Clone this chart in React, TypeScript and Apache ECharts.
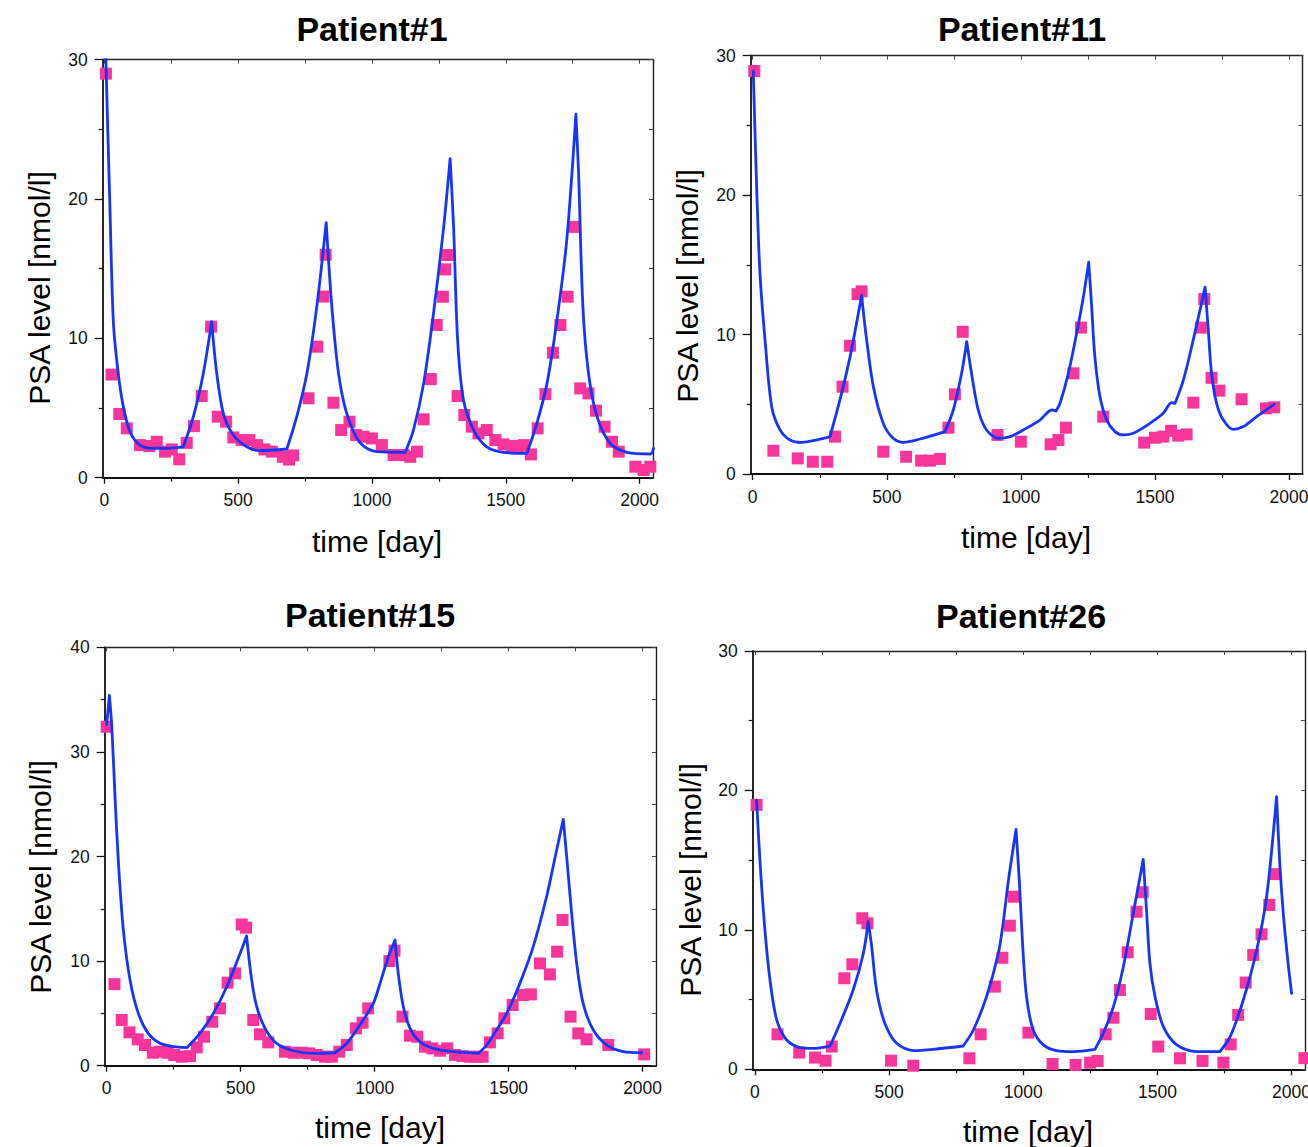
import React, { useEffect, useRef } from "react";
import * as echarts from "echarts";

const FONT = "'Liberation Sans', Arial, Helvetica, sans-serif";

// ---------- tick values ----------
const xMajorTicks = [0, 500, 1000, 1500, 2000];
const xMinorTicks = [250, 750, 1250, 1750];
const xTopTicks = [0, 250, 500, 750, 1000, 1250, 1500, 1750, 2000];

// ---------- titles ----------
const panelTitles = ["Patient#1", "Patient#11", "Patient#15", "Patient#26"];
const xAxisName = "time [day]";
const yAxisName = "PSA level [nmol/l]";
const yMaxValues = [30, 30, 40, 30];

// ---------- Patient #1 ----------
const p1Measured = [
  [6, 29.0], [27, 7.4], [56, 4.57], [84, 3.54], [133, 2.34], [168, 2.27], [196, 2.58], [227, 1.87],
  [252, 2.03], [280, 1.32], [308, 2.5], [335, 3.7], [364, 5.86], [399, 10.84], [424, 4.38], [455, 4.02],
  [482, 2.89], [513, 2.7], [542, 2.7], [570, 2.34], [598, 2.03], [626, 1.87], [667, 1.5], [690, 1.3],
  [705, 1.6], [763, 5.7], [796, 9.4], [819, 13.0], [827, 16.0], [856, 5.38], [885, 3.42], [916, 4.02],
  [941, 3.06], [968, 2.94], [1000, 2.82], [1037, 2.34], [1081, 1.63], [1118, 1.63], [1143, 1.5],
  [1168, 1.87], [1193, 4.19], [1220, 7.08], [1242, 10.96], [1265, 12.99], [1274, 14.95], [1282, 15.98],
  [1320, 5.86], [1345, 4.5], [1373, 3.66], [1398, 3.18], [1429, 3.42], [1461, 2.7], [1492, 2.39],
  [1523, 2.27], [1548, 2.27], [1567, 2.34], [1594, 1.67], [1619, 3.54], [1648, 6.0], [1676, 8.97],
  [1704, 10.96], [1731, 12.99], [1751, 18.0], [1778, 6.41], [1809, 6.05], [1837, 4.81], [1869, 3.66],
  [1897, 2.58], [1922, 1.87], [1984, 0.79], [2015, 0.55], [2040, 0.79],
];
// model curve, one array per treatment phase (decay / rise)
const p1Model = [
  [[3, 32], [21, 19.4], [34, 11.1], [52, 7.5], [71, 5.1], [96, 3.3], [133, 2.34], [183, 2.1], [221, 2.1], [295, 2.22]],
  [[295, 2.22], [333, 4.4], [370, 7.5], [401, 11.2]],
  [[401, 11.2], [420, 7.5], [445, 4.6], [482, 3.06], [532, 2.22], [582, 1.94], [682, 2.06]],
  [[682, 2.06], [719, 4.38], [757, 7.5], [794, 12.3], [829, 18.3]],
  [[829, 18.3], [850, 12.3], [875, 7.5], [906, 4.6], [956, 2.5], [1018, 1.87], [1124, 1.82]],
  [[1124, 1.82], [1155, 3.42], [1193, 6.77], [1230, 11.8], [1268, 18.0], [1292, 22.9]],
  [[1292, 22.9], [1305, 18.0], [1320, 9.9], [1342, 5.57], [1380, 3.42], [1429, 2.22], [1492, 1.82], [1579, 1.75]],
  [[1579, 1.75], [1616, 3.9], [1654, 6.77], [1691, 11.3], [1728, 17.1], [1762, 26.1]],
  [[1762, 26.1], [1772, 21.8], [1788, 12.3], [1809, 7.5], [1841, 4.38], [1890, 2.46], [1953, 1.82], [2040, 1.7], [2052, 2.1]],
];

// ---------- Patient #11 ----------
const p11Measured = [
  [6, 28.9], [77, 1.67], [168, 1.12], [224, 0.88], [278, 0.88], [307, 2.68], [335, 6.26], [363, 9.2],
  [391, 12.9], [406, 13.1], [487, 1.6], [572, 1.24], [628, 0.96], [661, 0.96], [698, 1.08], [730, 3.32],
  [754, 5.71], [783, 10.2], [913, 2.8], [1000, 2.32], [1111, 2.13], [1140, 2.44], [1168, 3.32],
  [1196, 7.22], [1224, 10.5], [1307, 4.11], [1460, 2.25], [1500, 2.6], [1531, 2.68], [1560, 3.1],
  [1587, 2.75], [1618, 2.84], [1643, 5.12], [1671, 10.5], [1684, 12.55], [1711, 6.9], [1740, 5.98],
  [1823, 5.36], [1914, 4.71], [1945, 4.78],
];
const p11Model = [
  [[2, 28.9], [15, 20.4], [27, 14.4], [46, 9.6], [71, 4.8], [102, 3.16], [139, 2.44], [183, 2.27], [239, 2.44], [288, 2.68]],
  [[288, 2.68], [325, 5.3], [363, 8.4], [406, 12.8]],
  [[406, 12.8], [425, 9.6], [450, 6.26], [487, 3.63], [524, 2.56], [562, 2.27], [624, 2.51], [717, 3.04]],
  [[717, 3.04], [748, 4.59], [779, 7.22], [798, 9.5]],
  [[798, 9.5], [816, 7.22], [841, 4.59], [872, 3.16], [916, 2.56], [960, 2.68], [1009, 3.16], [1071, 3.87], [1115, 4.59], [1131, 4.52]],
  [[1131, 4.52], [1146, 5.07], [1177, 7.22], [1208, 10.1], [1233, 12.7], [1253, 15.2]],
  [[1253, 15.2], [1264, 12.0], [1276, 8.4], [1295, 5.55], [1320, 3.87], [1351, 3.04], [1382, 2.8], [1419, 2.92], [1481, 3.63], [1531, 4.35], [1562, 5.12], [1575, 5.07]],
  [[1575, 5.07], [1606, 6.74], [1637, 9.13], [1668, 11.76], [1687, 13.4]],
  [[1687, 13.4], [1699, 10.3], [1711, 7.22], [1730, 5.07], [1755, 3.87], [1792, 3.2], [1830, 3.4], [1879, 4.11], [1945, 5.0]],
];

// ---------- Patient #15 ----------
const p15Measured = [
  [0, 32.4], [29, 7.8], [56, 4.37], [85, 3.19], [116, 2.52], [143, 1.98], [172, 1.24], [199, 1.34],
  [228, 1.24], [252, 1.02], [280, 0.86], [311, 0.92], [336, 1.75], [363, 2.77], [394, 4.2], [423, 5.48],
  [451, 7.94], [479, 8.83], [504, 13.5], [520, 13.2], [547, 4.37], [572, 3.0], [603, 2.23], [665, 1.34],
  [697, 1.24], [728, 1.24], [756, 1.18], [784, 1.02], [815, 0.86], [840, 0.86], [868, 1.34], [896, 1.98],
  [930, 3.57], [955, 4.11], [976, 5.48], [1055, 10.0], [1074, 11.0], [1104, 4.69], [1132, 2.87],
  [1159, 2.77], [1188, 1.82], [1215, 1.66], [1244, 1.43], [1271, 1.66], [1300, 1.02], [1328, 0.92],
  [1356, 0.86], [1381, 0.86], [1403, 0.86], [1430, 2.23], [1459, 3.09], [1484, 4.53], [1515, 5.8],
  [1554, 6.76], [1583, 6.82], [1617, 9.78], [1654, 8.73], [1681, 10.9], [1701, 13.93], [1731, 4.69],
  [1760, 3.09], [1791, 2.52], [1872, 1.98], [2006, 1.08],
];
const p15Model = [
  [[0, 32.6], [10, 35.4]],
  [[10, 35.4], [19, 32.4], [31, 25.7], [44, 19.3], [62, 13.0], [87, 8.2], [118, 5.0], [155, 3.09], [199, 2.14], [249, 1.82], [299, 1.72]],
  [[299, 1.72], [348, 3.09], [398, 5.0], [448, 7.55], [498, 10.74], [522, 12.4]],
  [[522, 12.4], [541, 8.19], [560, 5.64], [591, 3.57], [634, 2.14], [697, 1.43], [771, 1.18], [852, 1.24]],
  [[852, 1.24], [896, 2.14], [945, 3.9], [995, 5.96], [1020, 7.87], [1051, 10.4], [1076, 12.0]],
  [[1076, 12.0], [1088, 8.83], [1107, 5.64], [1132, 3.57], [1169, 2.29], [1219, 1.66], [1294, 1.34], [1387, 1.18]],
  [[1387, 1.18], [1418, 1.98], [1455, 3.41], [1493, 5.0], [1542, 7.87], [1592, 11.4], [1642, 16.2], [1679, 20.6], [1704, 23.55]],
  [[1704, 23.55], [1719, 19.3], [1735, 14.6], [1754, 9.78], [1778, 5.96], [1816, 3.41], [1866, 1.98], [1928, 1.34], [1997, 1.24]],
];

// ---------- Patient #26 ----------
const p26Measured = [
  [6, 18.96], [84, 2.51], [165, 1.2], [224, 0.84], [263, 0.62], [286, 1.63], [333, 6.53], [363, 7.53],
  [400, 10.83], [419, 10.47], [507, 0.62], [590, 0.26], [799, 0.79], [841, 2.51], [894, 5.93], [922, 8.0],
  [950, 10.3], [965, 12.38], [1019, 2.63], [1109, 0.38], [1195, 0.31], [1249, 0.48], [1277, 0.6],
  [1307, 2.51], [1336, 3.7], [1360, 5.69], [1389, 8.39], [1422, 11.3], [1445, 12.7], [1475, 3.97],
  [1503, 1.63], [1584, 0.79], [1668, 0.6], [1746, 0.48], [1773, 1.79], [1801, 3.9], [1829, 6.22],
  [1857, 8.2], [1888, 9.68], [1917, 11.79], [1938, 14.0], [2048, 0.8],
];
const p26Model = [
  [[6, 19.3], [19, 14.8], [37, 10.0], [56, 6.4], [81, 3.54], [118, 2.1], [168, 1.55], [217, 1.5], [280, 1.67]],
  [[280, 1.67], [317, 3.3], [366, 5.69], [404, 8.32], [422, 10.6]],
  [[422, 10.6], [435, 8.8], [453, 5.69], [484, 3.3], [528, 1.86], [590, 1.34], [665, 1.43], [776, 1.67]],
  [[776, 1.67], [814, 2.82], [863, 5.21], [907, 8.32], [925, 10.5], [945, 13.6], [973, 17.2]],
  [[973, 17.2], [985, 13.58], [998, 8.8], [1012, 5.21], [1037, 2.82], [1075, 1.75], [1124, 1.34], [1187, 1.27], [1267, 1.43]],
  [[1267, 1.43], [1298, 2.58], [1336, 4.49], [1373, 7.36], [1410, 11.19], [1447, 15.06]],
  [[1447, 15.06], [1460, 11.19], [1472, 7.6], [1491, 5.21], [1522, 3.06], [1572, 1.75], [1646, 1.27], [1733, 1.27]],
  [[1733, 1.27], [1771, 2.34], [1820, 4.97], [1870, 8.56], [1907, 12.38], [1944, 19.56]],
  [[1944, 19.56], [1956, 14.77], [1969, 11.19], [1987, 7.6], [2000, 5.45]],
];

const measuredSets = [p1Measured, p11Measured, p15Measured, p26Measured];
const modelSets = [p1Model, p11Model, p15Model, p26Model];

// join phases into one line with gaps so each phase is smoothed on its own
function joinPhases(phases: number[][][]) {
  const out: any[] = [];
  phases.forEach((ph, k) => {
    if (k > 0) out.push([ph[0][0], "-"]);
    ph.forEach((pt) => out.push(pt));
  });
  return out;
}

// ---------- layout (pixels) ----------
const panels = [
  { left: 102.7, top: 59.7, width: 550.3, height: 418, xMin: -6, xMax: 2050,
    title: [372, 29], xName: [377, 541], yName: [39, 288] },
  { left: 750.7, top: 55.7, width: 552, height: 418.3, xMin: -7.5, xMax: 2051,
    title: [1022, 29], xName: [1026, 537], yName: [687, 286] },
  { left: 104.7, top: 647.3, width: 551.3, height: 418.4, xMin: -7.5, xMax: 2050,
    title: [370, 615], xName: [380, 1127], yName: [40, 877] },
  { left: 752.7, top: 651, width: 552.3, height: 418.3, xMin: -8.5, xMax: 2050,
    title: [1021, 616], xName: [1028, 1131], yName: [690, 880] },
];

const PINK = "#F8359A";
const BLUE = "#1735F6";
const AXIS_DARK = "#111";
const TICK_FONT = 17.5;

function buildOption() {
  const grid: any[] = [];
  const xAxis: any[] = [];
  const yAxis: any[] = [];
  const series: any[] = [];
  const graphic: any[] = [];

  panels.forEach((p, i) => {
    grid.push({
      left: p.left, top: p.top, width: p.width, height: p.height,
      containLabel: false, outerBoundsMode: "none", show: false,
    });
    // bottom: major ticks + labels
    xAxis.push({
      type: "value", gridIndex: i, position: "bottom", min: p.xMin, max: p.xMax,
      axisLine: { show: true, onZero: false, lineStyle: { color: AXIS_DARK, width: 1.8 } },
      axisTick: { show: true, inside: false, length: 6, customValues: xMajorTicks,
        lineStyle: { color: AXIS_DARK, width: 1.3 } },
      axisLabel: { show: true, customValues: xMajorTicks, margin: 13.5, fontSize: TICK_FONT,
        color: "#111", fontFamily: FONT, formatter: (v: number) => String(Math.round(v)) },
      splitLine: { show: false },
    });
    // bottom: minor ticks
    xAxis.push({
      type: "value", gridIndex: i, position: "bottom", min: p.xMin, max: p.xMax,
      axisLine: { show: false, onZero: false },
      axisTick: { show: true, inside: false, length: 4, customValues: xMinorTicks,
        lineStyle: { color: AXIS_DARK, width: 1.2 } },
      axisLabel: { show: false },
      splitLine: { show: false },
    });
    // top frame
    xAxis.push({
      type: "value", gridIndex: i, position: "top", min: p.xMin, max: p.xMax,
      axisLine: { show: true, onZero: false, lineStyle: { color: "#222", width: 1.4 } },
      axisTick: { show: true, inside: true, length: 4, customValues: xTopTicks,
        lineStyle: { color: "#444", width: 1 } },
      axisLabel: { show: false },
      splitLine: { show: false },
    });
    // left y
    yAxis.push({
      type: "value", gridIndex: i, position: "left", min: 0, max: yMaxValues[i], interval: 10,
      axisLine: { show: true, onZero: false, lineStyle: { color: AXIS_DARK, width: 1.8 } },
      axisTick: { show: true, inside: false, length: 8, lineStyle: { color: AXIS_DARK, width: 1.3 } },
      minorTick: { show: true, splitNumber: 2, length: 4, lineStyle: { color: AXIS_DARK, width: 1.2 } },
      axisLabel: { show: true, margin: 15, fontSize: TICK_FONT, color: "#111", fontFamily: FONT },
      splitLine: { show: false },
      minorSplitLine: { show: false },
    });
    // right frame
    yAxis.push({
      type: "value", gridIndex: i, position: "right", min: 0, max: yMaxValues[i], interval: 5,
      axisLine: { show: true, onZero: false, lineStyle: { color: "#222", width: 1.4 } },
      axisTick: { show: true, inside: true, length: 4, lineStyle: { color: "#444", width: 1 } },
      axisLabel: { show: false },
      splitLine: { show: false },
    });

    series.push({
      type: "scatter", xAxisIndex: i * 3, yAxisIndex: i * 2, data: measuredSets[i],
      symbol: "rect", symbolSize: 12, itemStyle: { color: PINK, opacity: 1 }, z: 2,
    });
    series.push({
      type: "line", xAxisIndex: i * 3, yAxisIndex: i * 2, data: joinPhases(modelSets[i] as any),
      showSymbol: false, symbol: "none", smooth: 0.3, connectNulls: false,
      clip: true, lineStyle: { color: BLUE, width: 2.8, join: "round", cap: "round" }, z: 3,
    });

    graphic.push({
      type: "text", x: p.title[0], y: p.title[1],
      style: { text: panelTitles[i], fontSize: 34, fontWeight: "bold", fontFamily: FONT,
        fill: "#000", align: "center", verticalAlign: "middle" },
    });
    graphic.push({
      type: "text", x: p.xName[0], y: p.xName[1],
      style: { text: xAxisName, fontSize: 30, fontFamily: FONT, fill: "#000",
        align: "center", verticalAlign: "middle" },
    });
    graphic.push({
      type: "text", x: p.yName[0], y: p.yName[1], rotation: Math.PI / 2,
      style: { text: yAxisName, fontSize: 30, fontFamily: FONT, fill: "#000",
        align: "center", verticalAlign: "middle" },
    });
  });

  return {
    animation: false,
    backgroundColor: "#fff",
    textStyle: { fontFamily: FONT },
    grid, xAxis, yAxis, series, graphic,
  };
}

export default function App() {
  const ref = useRef<HTMLDivElement>(null);
  useEffect(() => {
    if (!ref.current) return;
    const chart = echarts.init(ref.current, null, { renderer: "svg" });
    chart.setOption(buildOption() as any);
    return () => chart.dispose();
  }, []);
  return (
    <div
      ref={ref}
      style={{ position: "absolute", left: 0, top: 0, width: 1308, height: 1147, background: "#fff" }}
    />
  );
}
